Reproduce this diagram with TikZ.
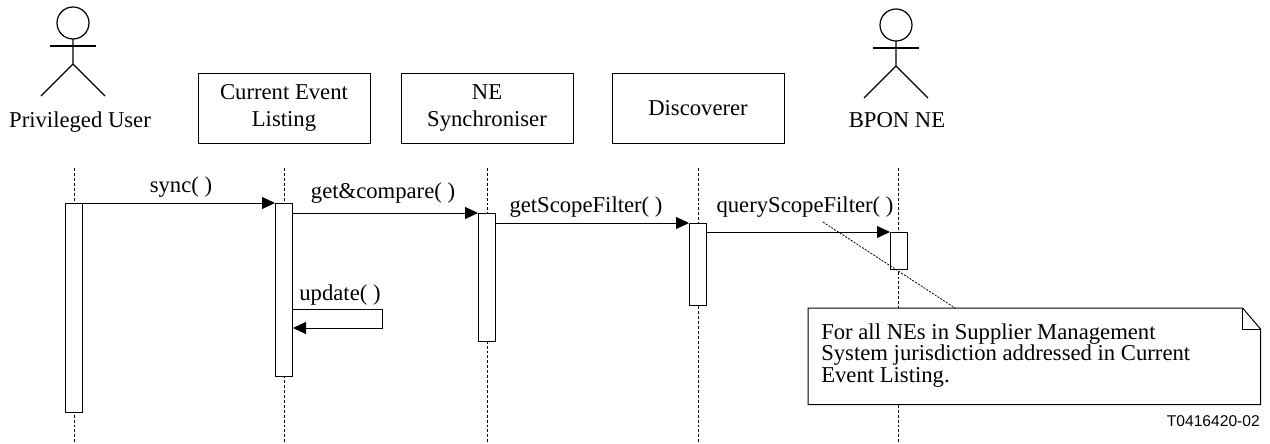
\documentclass[tikz,border=0pt]{standalone}
\usepackage{fontspec}
\setmainfont{Liberation Serif}
\newfontfamily\figfont{Liberation Sans}
\usetikzlibrary{arrows.meta,calc}

\tikzset{
  lifeline/.style={dash pattern=on 2.2pt off 1.5pt, line width=0.6pt},
  notelink/.style={dash pattern=on 1.5pt off 1pt, line width=0.6pt},
  object/.style={draw, line width=0.75pt, minimum width=129pt, minimum height=52.5pt, align=center, inner sep=0pt, font=\fontsize{17}{20}\selectfont},
  activation/.style={draw, fill=white, line width=0.75pt, minimum width=12.75pt, inner sep=0pt, anchor=north},
  msg/.style={line width=0.75pt, -{Triangle[length=9.75pt,width=9pt]}},
  msglabel/.style={anchor=base, inner sep=0pt, font=\fontsize{17}{20}\selectfont},
  stickman/.pic={
    \draw (0,0) circle [radius=12pt];
    \draw (-23,-23) -- (23,-23);
    \draw (0,-16) -- (0,-41) -- (-32,-73);
    \draw (0,-41) -- (32,-73);
  }
}

\begin{document}
\begin{tikzpicture}[x=0.75pt,y=0.75pt,yscale=-1,xscale=1]
\useasboundingbox (0,0) rectangle (1270,443);

%Actors
\pic[line width=0.9pt] at (73,23) {stickman};
\node (pu) [msglabel] at (80,127) {Privileged User};
\pic[line width=0.9pt] at (896,25) {stickman};
\node (bpon) [msglabel] at (897,127) {BPON NE};

%Shape: Rectangle
\node (cel) [object] at (284,108) {Current Event\\Listing};
%Shape: Rectangle
\node (nes) [object] at (487,108) {NE\\Synchroniser};
%Shape: Rectangle
\node (disc) [object] at (698,108) {Discoverer};

%Lifelines
\draw [lifeline] (74,168) -- (74,443);
\draw [lifeline] (cel.south |- 0,168) -- (cel.south |- 0,443);
\draw [lifeline] (nes.south |- 0,168) -- (nes.south |- 0,443);
\draw [lifeline] (disc.south |- 0,168) -- (disc.south |- 0,443);
\draw [lifeline] (898,168) -- (898,443);

%Activations
\node (a1) [activation, minimum height=156.75pt] at (74,203) {};
\node (a2) [activation, minimum height=129.75pt] at (284,203) {};
\node (a3) [activation, minimum height=96pt] at (487,213) {};
\node (a4) [activation, minimum height=61.5pt] at (698,223) {};
\node (a5) [activation, minimum height=27.75pt] at (899,232) {};

%Straight Lines
\draw [msg] (a1.east |- a2.north) -- (a2.north west);
\draw [msg] (a2.east |- a3.north) -- (a3.north west);
\draw [msg] (a3.east |- a4.north) -- (a4.north west);
\draw [msg] (a4.east |- a5.north) -- (a5.north west);
%Self message
\coordinate (updturn) at (382,309);
\draw [msg] (a2.east |- updturn) -- (updturn) -- (382,328) -- (a2.east |- 0,328);

% Text Node
\node (sync) [msglabel] at (181,192) {sync( )};
% Text Node
\node (getcmp) [msglabel] at (383,198) {get\&compare( )};
% Text Node
\node (getsf) [msglabel] at (586,212) {getScopeFilter( )};
% Text Node
\node (querysf) [msglabel] at (805,212) {queryScopeFilter( )};
% Text Node
\node (upd) [msglabel] at (340,300) {update( )};

%Note
\node (note) [minimum width=339pt, minimum height=72pt, anchor=north west, inner sep=0pt] at (808,308) {};
\draw [line width=0.75pt, fill=white] (note.north west) -- ($(note.north east)+(-18,0)$) -- ($(note.north east)+(0,21)$) -- (note.south east) -- (note.south west) -- cycle;
\draw [line width=0.75pt] ($(note.north east)+(-18,0)$) -- ($(note.north east)+(-18,21)$) -- ($(note.north east)+(0,21)$);
\node (notetext) [anchor=north west, align=left, inner sep=0pt, font=\fontsize{17}{16.2}\selectfont] at (821,323) {For all NEs in Supplier Management\\System jurisdiction addressed in Current\\Event Listing.};
\coordinate (notetail) at (823,222);
\draw [notelink] (notetail) -- ($(note.north west)!0.325!(note.north east)$);

% Text Node
\node (figno) [anchor=base east, inner sep=0pt, font=\figfont\fontsize{11.7}{14}\selectfont] at (1260,426) {T0416420-02};
\end{tikzpicture}
\end{document}
